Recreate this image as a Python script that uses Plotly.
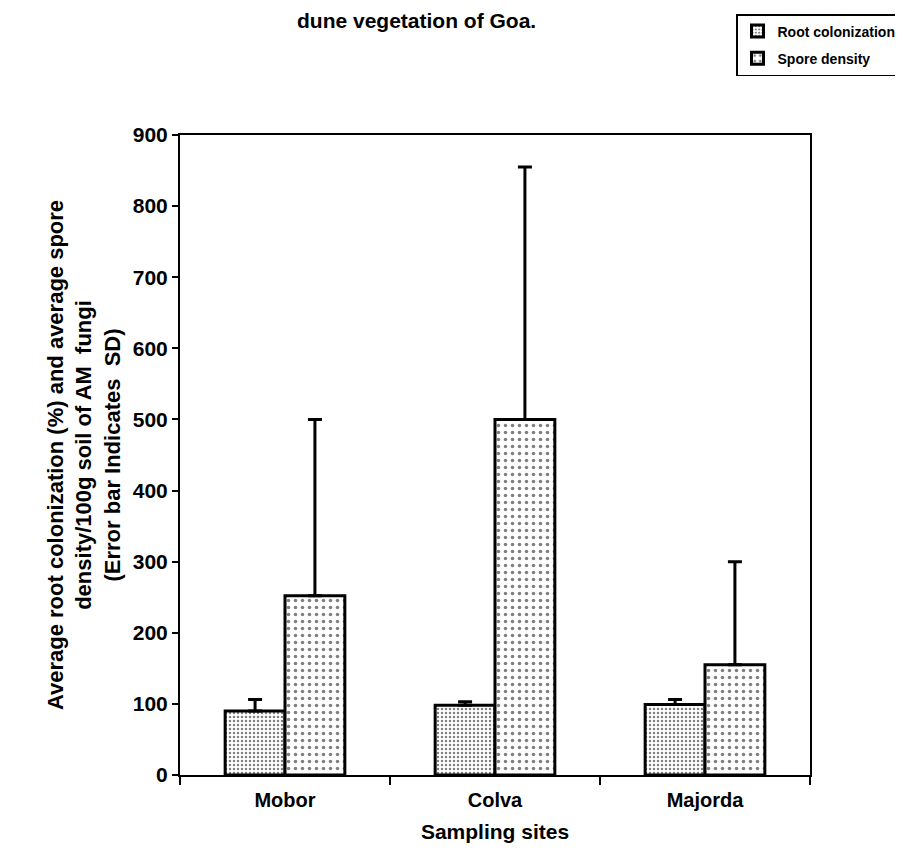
import plotly.graph_objects as go

sites = ["Mobor", "Colva", "Majorda"]
root_col = [90, 98, 99]
root_sd = [16, 5, 7]
spore_den = [252, 500, 155]
spore_sd = [248, 355, 145]
y_ticks = [0, 100, 200, 300, 400, 500, 600, 700, 800, 900]
series_names = ["Root colonization", "Spore density"]

FONT = "Liberation Sans, Arial, sans-serif"

L, R, T, B = 172, 101, 127, 91
W, H = 903, 858
PW, PH = W - L - R, H - T - B


def px_x(x):
    return (x - L) / PW


def px_y(y):
    return (H - B - y) / PH


fig = go.Figure()
fig.add_trace(go.Bar(
    x=sites, y=root_col, name=series_names[0], legendgroup="root",
    marker=dict(color="white", line=dict(color="black", width=3),
                pattern=dict(shape=".", size=4, solidity=0.3, fgcolor="black", bgcolor="white")),
    error_y=dict(type="data", array=root_sd, arrayminus=[0, 0, 0], symmetric=False,
                 color="black", thickness=3, width=7),
))
fig.add_trace(go.Bar(
    x=sites, y=spore_den, name=series_names[1], legendgroup="spore",
    marker=dict(color="white", line=dict(color="black", width=3),
                pattern=dict(shape=".", size=7, solidity=0.2, fgcolor="black", bgcolor="white")),
    error_y=dict(type="data", array=spore_sd, arrayminus=[0, 0, 0], symmetric=False,
                 color="black", thickness=3, width=7),
))

fig.update_layout(
    width=W, height=H,
    margin=dict(l=L, r=R, t=T, b=B, autoexpand=False),
    paper_bgcolor="white", plot_bgcolor="white",
    barmode="group", bargap=0.43, bargroupgap=0,
    font=dict(family=FONT, color="black", size=20),
    showlegend=True,
    legend=dict(x=px_x(728), y=px_y(6), xanchor="left", yanchor="top",
                bordercolor="black", borderwidth=1.5, bgcolor="white",
                font=dict(family=FONT, size=14, color="black", weight="bold"),
                tracegroupgap=6, itemwidth=30, entrywidth=135, entrywidthmode="pixels"),
    annotations=[
        dict(text="<b>dune vegetation of Goa.</b>", x=px_x(408), y=px_y(13),
             xref="paper", yref="paper", showarrow=False,
             font=dict(size=21, family=FONT), xanchor="center", yanchor="middle"),
    ],
)

fig.update_xaxes(
    showline=True, linecolor="black", linewidth=2, mirror=True,
    ticks="outside", tickson="boundaries", ticklen=8, tickwidth=1.5, tickcolor="black",
    tickfont=dict(family=FONT, size=20, weight="bold"), ticklabelstandoff=6,
    title=dict(text="<b>Sampling sites</b>", font=dict(family=FONT, size=21), standoff=14),
)
fig.update_yaxes(
    range=[0, 900], tickvals=y_ticks, showgrid=False, zeroline=False,
    showline=True, linecolor="black", linewidth=2, mirror=True,
    ticks="outside", ticklen=6, tickwidth=1.5, tickcolor="black",
    tickfont=dict(family=FONT, size=21, weight="bold"),
    title=dict(text="<b>Average root colonization (%) and average spore<br>density/100g soil of AM  fungi<br>(Error bar Indicates  SD)</b>",
               font=dict(family=FONT, size=22), standoff=6),
)

fig.write_html("out.html")
